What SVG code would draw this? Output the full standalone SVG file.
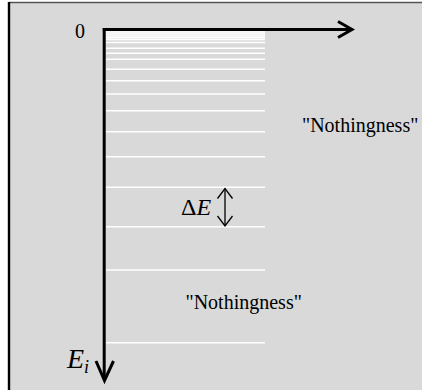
<svg xmlns="http://www.w3.org/2000/svg" width="422" height="390" viewBox="0 0 422 390">
<style>
.lvl{stroke:#ffffff;stroke-width:1.5}
.ax{stroke:#000;stroke-width:3;fill:none;stroke-linecap:butt}
</style>
<rect x="0" y="0" width="422" height="390" fill="#ffffff"/>
<rect x="9" y="2.5" width="420" height="400" fill="#d9d9d9"/>
<line x1="9" y1="2.5" x2="422" y2="2.5" stroke="#555" stroke-width="1.6"/>
<line x1="9" y1="2" x2="9" y2="390" stroke="#000" stroke-width="2.4"/>
<g id="levels">
<line class="lvl" x1="106" y1="32" x2="265" y2="32"/>
<line class="lvl" x1="106" y1="34" x2="265" y2="34"/>
<line class="lvl" x1="106" y1="36" x2="265" y2="36"/>
<line class="lvl" x1="106" y1="37.8" x2="265" y2="37.8"/>
<line class="lvl" x1="106" y1="39.5" x2="265" y2="39.5"/>
<line class="lvl" x1="106" y1="42.5" x2="265" y2="42.5"/>
<line class="lvl" x1="106" y1="48.3" x2="265" y2="48.3"/>
<line class="lvl" x1="106" y1="53.3" x2="265" y2="53.3"/>
<line class="lvl" x1="106" y1="59.3" x2="265" y2="59.3"/>
<line class="lvl" x1="106" y1="69.3" x2="265" y2="69.3"/>
<line class="lvl" x1="106" y1="80.7" x2="265" y2="80.7"/>
<line class="lvl" x1="106" y1="94" x2="265" y2="94"/>
<line class="lvl" x1="106" y1="110.7" x2="265" y2="110.7"/>
<line class="lvl" x1="106" y1="131.7" x2="265" y2="131.7"/>
<line class="lvl" x1="106" y1="156.7" x2="265" y2="156.7"/>
<line class="lvl" x1="106" y1="187.3" x2="265" y2="187.3"/>
<line class="lvl" x1="106" y1="226.7" x2="265" y2="226.7"/>
<line class="lvl" x1="106" y1="270" x2="265" y2="270"/>
<line class="lvl" x1="106" y1="342.7" x2="265" y2="342.7"/>
</g>
<g id="connectors">
<path class="ax" d="M102.8 29.5 H351"/>
<path class="ax" d="M338 21.5 L352 29.5 L338 37.5"/>
<path class="ax" stroke-width="2.6" d="M104.2 28 V379"/>
<path class="ax" stroke-width="2.8" d="M96 361 L104.5 380.5 L113.5 361"/>
<g id="deltaE-arrow" stroke="#000" fill="none" stroke-width="1.3">
<path d="M225 188.5 V226"/>
<path d="M217.5 198.5 L225 188.5 L232.5 198.5"/>
<path d="M217.5 216 L225 226 L232.5 216"/>
</g>
</g>
<g id="labels" font-family="'Liberation Serif', 'Times New Roman', serif" fill="#000">
<text x="75" y="38" font-size="20">0</text>
<text x="302" y="131.5" font-size="20">"Nothingness"</text>
<text x="185.5" y="309" font-size="20">"Nothingness"</text>
<text x="181" y="215" font-size="24">Δ<tspan font-style="italic">E</tspan></text>
<text x="67" y="368" font-size="28" font-style="italic">E<tspan font-size="18" dy="5">i</tspan></text>
</g>
</svg>
